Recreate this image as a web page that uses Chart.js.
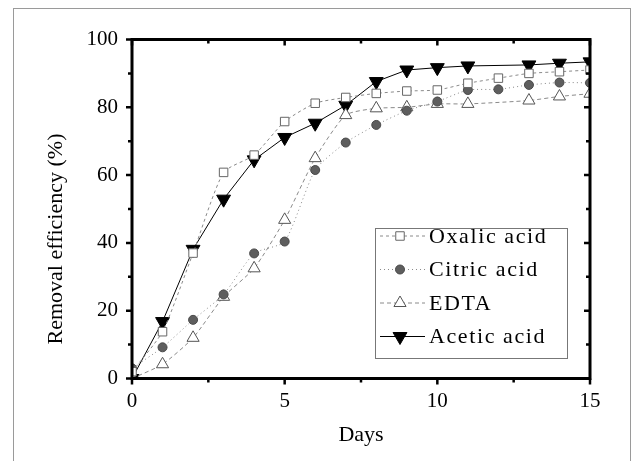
<!DOCTYPE html>
<html lang="en">
  <head>
    <meta charset="UTF-8" />
    <title>Removal efficiency</title>
    <script src="https://cdn.jsdelivr.net/npm/chart.js@4.4.0/dist/chart.umd.min.js"></script>
    <style>
      body {
        margin: 0;
        background: #fff;
      }
      canvas {
        display: block;
      }
    </style>
  </head>
  <body>
    <canvas id="removalChart" width="637" height="461"></canvas>
    <script>
      const days = [0, 1, 2, 3, 4, 5, 6, 7, 8, 9, 10, 11, 12, 13, 14, 15];
      const seriesNames = ["Oxalic acid", "Citric acid", "EDTA", "Acetic acid"];
      const oxalic = [2, 13.8, 37, 60.8, 65.9, 75.8, 81.2, 82.9, 84.1, 84.8, 85.1, 87.1, 88.6, 90.0, 90.5, 91.0];
      const citric = [3, 9.2, 17.3, 24.8, 36.9, 40.4, 61.5, 69.6, 74.8, 79.0, 81.7, 85.1, 85.3, 86.6, 87.3, 87.2];
      const edta = [0, 4.2, 12.0, 24.1, 32.5, 46.8, 65.0, 77.7, 79.7, 80.0, 81.0, 81.0, null, 82.0, 83.2, 84.0];
      const acetic = [0, 16.8, 38.1, 52.9, 64.5, 71.1, 75.3, 80.6, 87.6, 91.0, 91.7, 92.2, null, 92.5, 93.0, 93.4];
      const yTitle = "Removal efficiency (%)";

      const SERIF = "'Liberation Serif', 'Times New Roman', serif";

      const toPoints = (values) => days.map((d, i) => ({ x: d, y: values[i] }));

      // white page, thin grey outer frame, y axis title (sits a bit below the axis middle)
      const pageFrame = {
        id: "pageFrame",
        beforeDraw(chart) {
          const ctx = chart.ctx;
          ctx.save();
          ctx.fillStyle = "#fff";
          ctx.fillRect(0, 0, chart.width, chart.height);
          ctx.strokeStyle = "#9a9a9a";
          ctx.lineWidth = 1;
          ctx.strokeRect(13.5, 8.5, 617, 470);
          ctx.translate(56, 239);
          ctx.rotate(-Math.PI / 2);
          ctx.font = "22px " + SERIF;
          ctx.fillStyle = "#000";
          ctx.textAlign = "center";
          ctx.textBaseline = "middle";
          ctx.fillText(yTitle, 0, 0);
          ctx.restore();
        },
      };

      // heavy box around the plot with major/minor tick marks on all four sides
      const plotBox = {
        id: "plotBox",
        afterDatasetsDraw(chart) {
          const { ctx, chartArea: a, scales } = chart;
          const x = scales.x;
          const y = scales.y;
          ctx.save();
          ctx.strokeStyle = "#000";
          ctx.lineWidth = 3;
          ctx.strokeRect(a.left, a.top, a.right - a.left, a.bottom - a.top);
          ctx.lineWidth = 2.5;
          ctx.beginPath();
          for (let v = 0; v <= 15; v += 2.5) {
            const px = x.getPixelForValue(v);
            const len = v % 5 === 0 ? 6 : 4;
            ctx.moveTo(px, a.bottom);
            ctx.lineTo(px, a.bottom + len);
            ctx.moveTo(px, a.top);
            ctx.lineTo(px, a.top + len);
          }
          for (let v = 0; v <= 100; v += 10) {
            const py = y.getPixelForValue(v);
            const len = v % 20 === 0 ? 6 : 4;
            ctx.moveTo(a.left, py);
            ctx.lineTo(a.left - len, py);
            ctx.moveTo(a.right, py);
            ctx.lineTo(a.right - len, py);
          }
          ctx.stroke();
          ctx.restore();
        },
      };

      // boxed legend sitting inside the plot area
      const boxLegend = {
        id: "boxLegend",
        afterDraw(chart, args, opts) {
          const ctx = chart.ctx;
          ctx.save();
          ctx.strokeStyle = "#777";
          ctx.lineWidth = 1;
          ctx.strokeRect(opts.left + 0.5, opts.top + 0.5, opts.width, opts.height);
          ctx.font = "22px " + SERIF;
          ctx.letterSpacing = "1.6px";
          ctx.textBaseline = "middle";
          ctx.fillStyle = "#000";
          chart.data.datasets.forEach((ds, i) => {
            const cy = opts.firstRow + i * opts.rowGap;
            ctx.save();
            ctx.strokeStyle = ds.borderColor;
            ctx.lineWidth = ds.borderWidth;
            ctx.setLineDash(ds.borderDash || []);
            ctx.beginPath();
            ctx.moveTo(opts.left + 5, cy);
            ctx.lineTo(opts.left + 50, cy);
            ctx.stroke();
            ctx.setLineDash([]);
            ctx.fillStyle = ds.pointBackgroundColor;
            ctx.strokeStyle = ds.pointBorderColor;
            ctx.lineWidth = ds.pointBorderWidth;
            Chart.helpers.drawPoint(
              ctx,
              {
                pointStyle: ds.pointStyle,
                radius: ds.pointRadius,
                rotation: ds.pointRotation || 0,
                borderWidth: ds.pointBorderWidth,
              },
              opts.left + 25,
              cy
            );
            ctx.restore();
            ctx.fillText(ds.label, opts.left + 54, cy + 1);
          });
          ctx.restore();
        },
      };

      new Chart(document.getElementById("removalChart"), {
        type: "line",
        data: {
          datasets: [
            {
              label: seriesNames[0],
              data: toPoints(oxalic),
              borderColor: "#8a8a8a",
              borderWidth: 1,
              borderDash: [3, 3],
              tension: 0.2,
              pointStyle: "rect",
              pointRadius: 6,
              pointBackgroundColor: "#fff",
              pointBorderColor: "#666",
              pointBorderWidth: 1,
            },
            {
              label: seriesNames[1],
              data: toPoints(citric),
              borderColor: "#8a8a8a",
              borderWidth: 1,
              borderDash: [1, 3],
              tension: 0.2,
              pointStyle: "circle",
              pointRadius: 4.5,
              pointBackgroundColor: "#5e5e5e",
              pointBorderColor: "#4a4a4a",
              pointBorderWidth: 1,
            },
            {
              label: seriesNames[2],
              data: toPoints(edta),
              borderColor: "#8a8a8a",
              borderWidth: 1,
              borderDash: [4, 3],
              tension: 0.2,
              spanGaps: true,
              pointStyle: "triangle",
              pointRadius: 7,
              pointBackgroundColor: "#fff",
              pointBorderColor: "#555",
              pointBorderWidth: 1,
            },
            {
              label: seriesNames[3],
              data: toPoints(acetic),
              borderColor: "#000",
              borderWidth: 1,
              tension: 0,
              spanGaps: true,
              pointStyle: "triangle",
              pointRotation: 180,
              pointRadius: 8,
              pointBackgroundColor: "#000",
              pointBorderColor: "#000",
              pointBorderWidth: 1,
            },
          ],
        },
        options: {
          responsive: false,
          animation: false,
          layout: { padding: { left: 38, right: 47, top: 39.5, bottom: 8.5 } },
          plugins: {
            legend: { display: false },
            tooltip: { enabled: false },
            boxLegend: { left: 375, top: 228, width: 192, height: 130, firstRow: 236, rowGap: 33.5 },
          },
          scales: {
            x: {
              type: "linear",
              min: 0,
              max: 15,
              grid: { display: false, drawTicks: false },
              border: { display: false },
              ticks: { stepSize: 5, padding: 10, color: "#000", font: { family: SERIF, size: 21 } },
              title: { display: true, text: "Days", color: "#000", font: { family: SERIF, size: 22 } },
              afterFit(scale) {
                scale.height = 74;
              },
            },
            y: {
              min: 0,
              max: 100,
              grid: { display: false, drawTicks: false },
              border: { display: false },
              ticks: { stepSize: 20, padding: 14, color: "#000", font: { family: SERIF, size: 21 } },
              afterFit(scale) {
                scale.width = 94;
              },
            },
          },
        },
        plugins: [pageFrame, plotBox, boxLegend],
      });
    </script>
  </body>
</html>
